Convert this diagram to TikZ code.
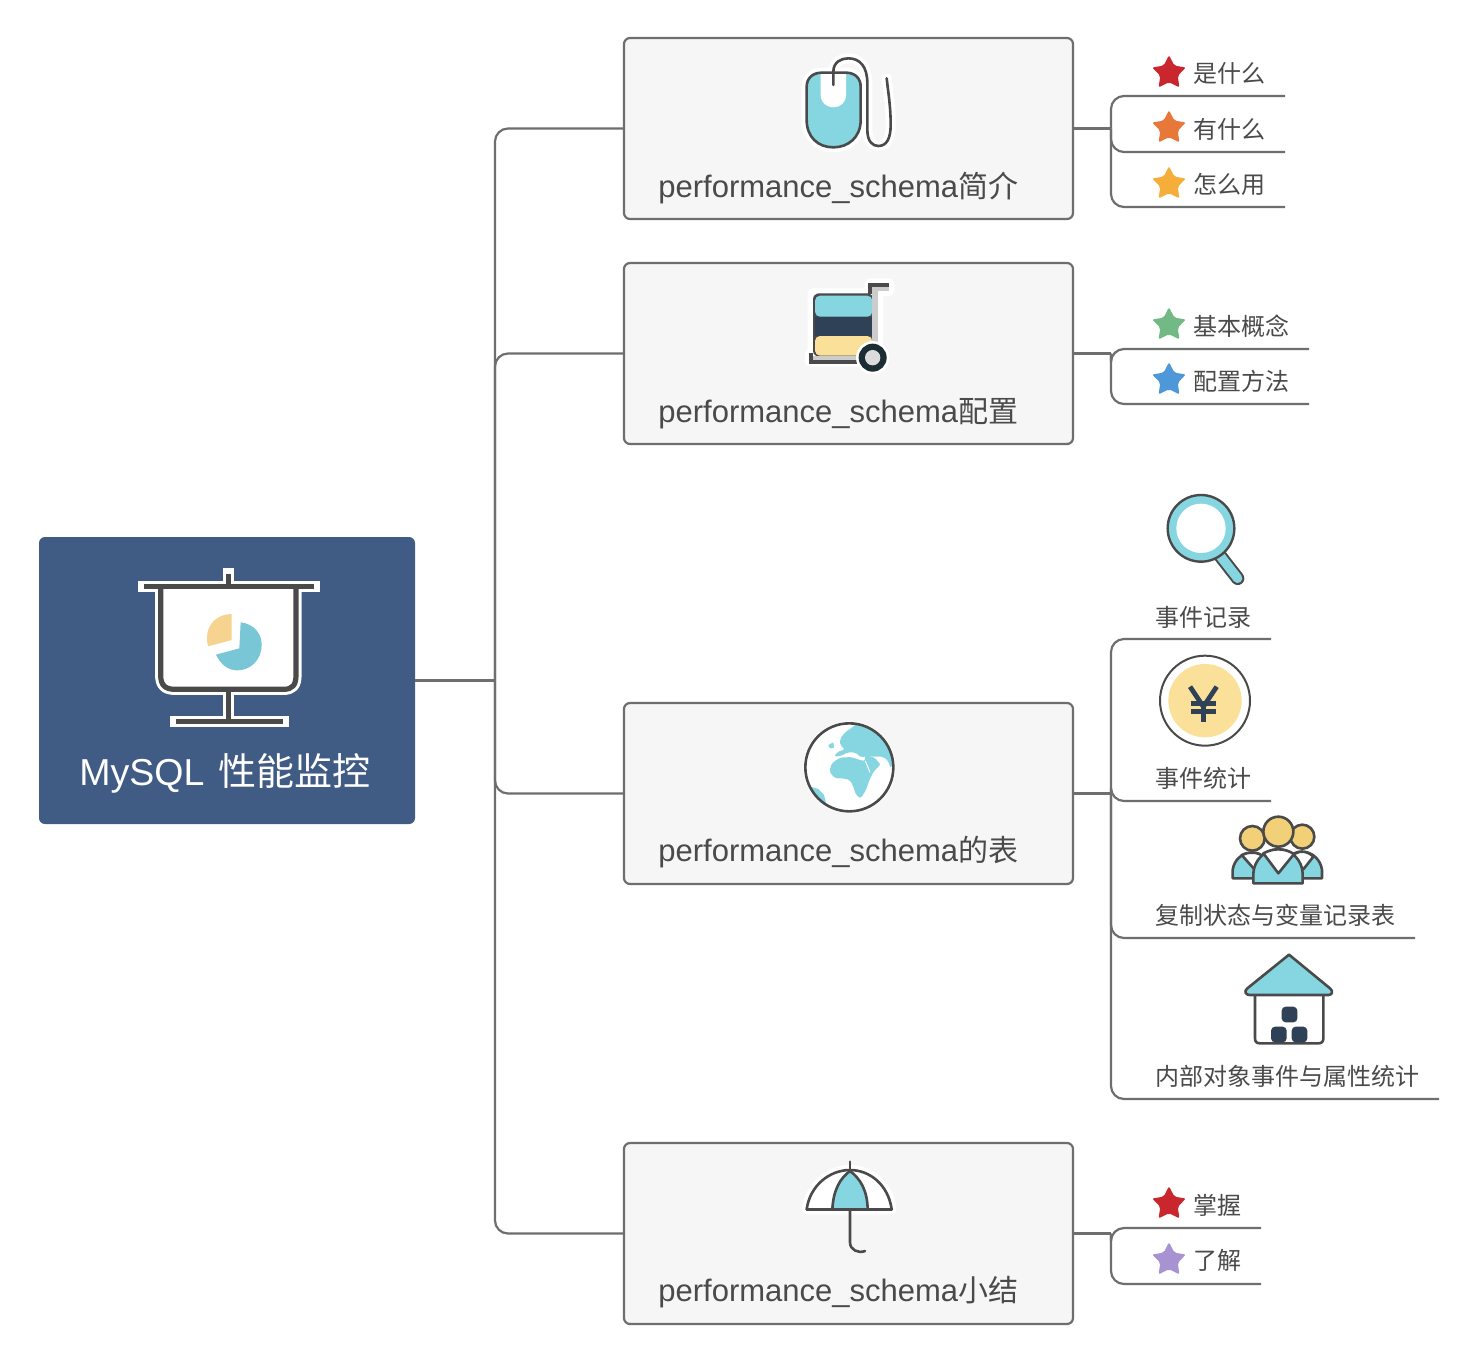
\documentclass[tikz,border=0pt]{standalone}
\usepackage{fontspec}
\setmainfont{Liberation Sans}
\newfontfamily\cjk{Noto Sans CJK SC}
\usetikzlibrary{shapes.geometric}
\definecolor{ink}{HTML}{4A4A4A}
\definecolor{wire}{HTML}{6E6E6E}
\definecolor{panel}{HTML}{F6F6F6}
\definecolor{rootblue}{HTML}{405C85}
\definecolor{teal}{HTML}{86D6E2}
\definecolor{navy}{HTML}{2F4156}
\definecolor{butter}{HTML}{FBE09A}
\definecolor{gold}{HTML}{F2D077}
\definecolor{pieblue}{HTML}{78C6D6}
\definecolor{pieyellow}{HTML}{F6D38F}
\definecolor{starred}{HTML}{C9272D}
\definecolor{starorange}{HTML}{E8773A}
\definecolor{staramber}{HTML}{F5AE3A}
\definecolor{stargreen}{HTML}{72B985}
\definecolor{starblue}{HTML}{4E97D9}
\definecolor{starpurple}{HTML}{A793D1}
\definecolor{cartgray}{HTML}{CCCCCC}
\definecolor{wheeldark}{HTML}{1C2D33}
\definecolor{wheelhub}{HTML}{DCDCDC}
\tikzset{
  rootbox/.style={draw=none,fill=rootblue,rounded corners=3pt,minimum width=188pt,minimum height=143.5pt,inner sep=0pt},
  topicbox/.style={draw=wire,line width=1.1pt,fill=panel,rounded corners=3pt,minimum width=224.5pt,minimum height=90.5pt,inner sep=0pt},
  topictext/.style={anchor=base west,inner sep=0pt,text=ink,font=\fontsize{15.5}{18}\selectfont},
  leaftext/.style={anchor=base west,inner sep=0pt,text=ink,font=\fontsize{12}{14}\selectfont\cjk},
  wireline/.style={draw=wire,line width=1.1pt,rounded corners=6.5pt},
  starmark/.style={star,star points=5,star point ratio=1.95,inner sep=0pt,minimum size=17.8pt,rounded corners=1pt,fill=#1,draw=none},
  outl/.style={draw=ink,line width=1.3pt,line join=round,line cap=round},
  halo/.style={draw=white,line width=5pt,line join=round,line cap=round},
  zoomed/.style={shift={#1},scale=.33333},
}
\begin{document}
\begin{tikzpicture}[x=.5pt,y=.5pt,yscale=-1]
\path[fill=white,use as bounding box] (0,0) rectangle (1482,1366);

% boxes
\node[rootbox] (root) at (227,680.5) {};
\node[topicbox] (b1) at (848.5,128.5) {};
\node[topicbox] (b2) at (848.5,353.5) {};
\node[topicbox] (b3) at (848.5,793.5) {};
\node[topicbox] (b4) at (848.5,1233.5) {};

% left trunk
\coordinate (t0) at (495,680.5);
\draw[wireline] (root.east) -- (t0);
\draw[wireline] (t0) |- (b1.west);
\draw[wireline] (t0) |- (b2.west);
\draw[wireline] (t0) |- (b3.west);
\draw[wireline] (t0) |- (b4.west);

% right joints
\coordinate (j1) at (1111,128.5);
\coordinate (j2) at (1111,353.5);
\coordinate (j3) at (1111,793.5);
\coordinate (j4) at (1111,1233.5);
\draw[wireline] (b1.east) -- (j1);
\draw[wireline] (b2.east) -- (j2);
\draw[wireline] (b3.east) -- (j3);
\draw[wireline] (b4.east) -- (j4);

% leaf lines
\coordinate (e11) at (1285,96);
\coordinate (e12) at (1285,152);
\coordinate (e13) at (1285,207);
\coordinate (e21) at (1309,349);
\coordinate (e22) at (1309,404);
\coordinate (e31) at (1271,639);
\coordinate (e32) at (1271,801);
\coordinate (e33) at (1415,938);
\coordinate (e34) at (1439,1099);
\coordinate (e41) at (1261,1228);
\coordinate (e42) at (1261,1284);
\draw[wireline] (j1) |- (e11);
\draw[wireline] (j1) |- (e12);
\draw[wireline] (j1) |- (e13);
\draw[wireline] (j2) |- (e21);
\draw[wireline] (j2) |- (e22);
\draw[wireline] (j3) |- (e31);
\draw[wireline] (j3) |- (e32);
\draw[wireline] (j3) |- (e33);
\draw[wireline] (j3) |- (e34);
\draw[wireline] (j4) |- (e41);
\draw[wireline] (j4) |- (e42);

% texts
\node[anchor=base west,inner sep=0pt,text=white,font=\fontsize{18.75}{22}\selectfont] (roottext) at (79,785) {MySQL\hspace{7.2pt}{\fontsize{19}{22}\selectfont\cjk 性能监控}};
\node[topictext] (t1) at (658,197.5) {performance\_schema{\fontsize{15}{18}\selectfont\cjk 简介}};
\node[topictext] (t2) at (658,422.5) {performance\_schema{\fontsize{15}{18}\selectfont\cjk 配置}};
\node[topictext] (t3) at (658,861.5) {performance\_schema{\fontsize{15}{18}\selectfont\cjk 的表}};
\node[topictext] (t4) at (658,1301.5) {performance\_schema{\fontsize{15}{18}\selectfont\cjk 小结}};

\node[leaftext] (l11) at (1193,82) {是什么};
\node[leaftext] (l12) at (1193,138) {有什么};
\node[leaftext] (l13) at (1193,193) {怎么用};
\node[leaftext] (l21) at (1193,335) {基本概念};
\node[leaftext] (l22) at (1193,390) {配置方法};
\node[leaftext] (l31) at (1155,626) {事件记录};
\node[leaftext] (l32) at (1155,787) {事件统计};
\node[leaftext] (l33) at (1155,924) {复制状态与变量记录表};
\node[leaftext] (l34) at (1155,1085) {内部对象事件与属性统计};
\node[leaftext] (l41) at (1193,1214) {掌握};
\node[leaftext] (l42) at (1193,1269) {了解};

% stars
\node[starmark=starred] (s11) at (1169,73) {};
\node[starmark=starorange] (s12) at (1169,128) {};
\node[starmark=staramber] (s13) at (1169,184) {};
\node[starmark=stargreen] (s21) at (1169,325) {};
\node[starmark=starblue] (s22) at (1169,380) {};
\node[starmark=starred] (s41) at (1169,1204) {};
\node[starmark=starpurple] (s42) at (1169,1260) {};

% presentation board (zoom coordinates)
\begin{scope}[zoomed={(120,560)}]
  \begin{scope}[draw=white,line width=5.6pt,line cap=rect,line join=round]
    \draw (72,80) -- (582,80);
    \draw (325,42) -- (325,80);
    \draw (122,80) -- (122,345) .. controls (122,375) and (135,388) .. (165,388) -- (490,388) .. controls (518,388) and (528,375) .. (528,345) -- (528,80);
    \draw (325,388) -- (325,485);
    \draw (168,485) -- (490,485);
  \end{scope}
  \fill[white] (122,80) rectangle (528,385);
  \begin{scope}[draw=ink,line width=2.6pt,line join=round]
    \draw (72,80) -- (582,80);
    \draw (325,42) -- (325,80);
    \draw (122,80) -- (122,345) .. controls (122,375) and (135,388) .. (165,388) -- (490,388) .. controls (518,388) and (528,375) .. (528,345) -- (528,80);
    \draw (325,388) -- (325,485);
    \draw (168,485) -- (490,485);
  \end{scope}
  \fill[pieblue] (358,265) -- (362,187) .. controls (402,192) and (425,220) .. (425,255) .. controls (425,298) and (393,331) .. (352,331) .. controls (325,331) and (303,315) .. (288,284) -- cycle;
  \fill[pieyellow] (335,240) -- (335,162) .. controls (293,162) and (261,192) .. (261,232) .. controls (261,242) and (262,250) .. (264,259) -- cycle;
\end{scope}

% mouse
\begin{scope}[zoomed={(790,50)}]
  \draw[halo] (130,105) -- (130,65) .. controls (130,35) and (155,25) .. (175,25) .. controls (210,25) and (232,50) .. (232,100) -- (232,240) .. controls (232,275) and (248,288) .. (265,288) .. controls (290,288) and (302,265) .. (302,225) .. controls (302,170) and (295,130) .. (290,85);
  \draw[halo] (95,68) -- (168,68) .. controls (195,68) and (212,85) .. (212,110) -- (212,210) .. controls (212,262) and (175,292) .. (130,292) .. controls (85,292) and (50,262) .. (50,210) -- (50,110) .. controls (50,85) and (68,68) .. (95,68) -- cycle;
  \fill[teal] (95,68) -- (168,68) .. controls (195,68) and (212,85) .. (212,110) -- (212,210) .. controls (212,262) and (175,292) .. (130,292) .. controls (85,292) and (50,262) .. (50,210) -- (50,110) .. controls (50,85) and (68,68) .. (95,68) -- cycle;
  \fill[white] (92,70) -- (168,70) -- (168,135) .. controls (168,158) and (150,172) .. (130,172) .. controls (110,172) and (92,158) .. (92,135) -- cycle;
  \draw[outl] (95,68) -- (168,68) .. controls (195,68) and (212,85) .. (212,110) -- (212,210) .. controls (212,262) and (175,292) .. (130,292) .. controls (85,292) and (50,262) .. (50,210) -- (50,110) .. controls (50,85) and (68,68) .. (95,68) -- cycle;
  \draw[outl] (130,105) -- (130,65) .. controls (130,35) and (155,25) .. (175,25) .. controls (210,25) and (232,50) .. (232,100) -- (232,240) .. controls (232,275) and (248,288) .. (265,288) .. controls (290,288) and (302,265) .. (302,225) .. controls (302,170) and (295,130) .. (290,85);
\end{scope}

% cart
\begin{scope}[zoomed={(790,275)}]
  \draw[white,line width=5pt,line join=round] (68,55) -- (238,55) -- (238,25) -- (298,25) -- (298,48) -- (265,48) -- (265,205) -- (225,260) -- (60,260) -- (60,238) -- (68,238) -- cycle;
  \fill[ink,rounded corners=3pt] (69,55) rectangle (250,245);
  \fill[teal,rounded corners=2.5pt] (75,62) rectangle (247,125);
  \fill[navy] (75,125) rectangle (247,183);
  \fill[butter,rounded corners=2.5pt] (75,183) rectangle (247,242);
  \fill[cartgray] (247,35) rectangle (263,235);
  \fill[cartgray] (247,35) rectangle (296,48);
  \draw[ink,line width=2pt,line join=miter] (298,29) -- (240,29) -- (240,58);
  \fill[cartgray] (68,243) rectangle (225,255);
  \draw[ink,line width=2pt,line join=miter] (62,235) -- (62,260) -- (215,260);
  \fill[white] (248,248) circle (50);
  \fill[wheeldark] (248,248) circle (42);
  \fill[wheelhub] (248,248) circle (23);
\end{scope}

% globe
\begin{scope}[zoomed={(790,715)}]
  \fill[white] (178,157) circle (138);
  \begin{scope}
    \clip (178,157) circle (132);
    \fill[teal,rounded corners=1pt] (150,72) -- (165,52) -- (190,35) -- (200,25) -- (260,30) -- (320,80) -- (312,130) -- (302,160) -- (293,135) -- (278,125) -- (255,125) -- (230,123) -- (215,128) -- (195,112) -- (172,112) -- (155,122) -- (133,125) -- (140,112) -- (165,103) -- (150,90) -- cycle;
    \fill[teal,rounded corners=1pt] (225,122) -- (250,125) -- (272,148) -- (252,168) -- (238,195) -- (228,225) -- (212,250) -- (198,240) -- (190,215) -- (180,195) -- (160,190) -- (135,190) -- (118,170) -- (125,145) -- (150,128) -- (185,126) -- (205,134) -- (225,138) -- cycle;
    \draw[white,line width=.5pt] (226,138) -- (240,172);
    \fill[teal] (115,90) -- (130,82) -- (132,98) -- (120,100) -- cycle;
    \fill[teal] (40,190) -- (60,215) -- (85,222) -- (102,240) -- (110,272) -- (90,260) -- (60,235) -- cycle;
  \end{scope}
  \draw[outl] (178,157) circle (132);
\end{scope}

% umbrella
\begin{scope}[zoomed={(790,1155)}]
  \draw[halo,fill=white] (50,163) .. controls (60,90) and (120,45) .. (180,45) .. controls (240,45) and (295,90) .. (305,163) -- cycle;
  \fill[teal] (127,163) .. controls (130,105) and (150,70) .. (180,48) .. controls (210,70) and (232,105) .. (233,163) -- cycle;
  \draw[outl] (50,163) .. controls (60,90) and (120,45) .. (180,45) .. controls (240,45) and (295,90) .. (305,163);
  \draw[outl] (127,163) .. controls (130,105) and (150,70) .. (180,48) .. controls (210,70) and (232,105) .. (233,163);
  \draw[outl] (50,163) -- (305,163);
  \draw[outl] (180,20) -- (180,48);
  \draw[outl] (180,163) -- (180,262) .. controls (180,285) and (205,296) .. (225,288);
\end{scope}

% magnifier
\begin{scope}[zoomed={(1145,485)}]
  \draw[ink,line width=6.7pt,line cap=round] (225,212) -- (278,280);
  \draw[teal,line width=4.7pt,line cap=round] (225,212) -- (278,280);
  \filldraw[draw=ink,line width=1.2pt,fill=teal] (168,130) circle (100);
  \fill[white] (168,130) circle (74);
\end{scope}

% coin
\begin{scope}[zoomed={(1145,485)}]
  \draw[ink,line width=1pt,fill=white] (180,647) circle (135);
  \fill[butter] (180,647) circle (110);
  \draw[navy,line width=2.4pt,line join=miter] (135,605) -- (175,665) -- (215,605);
  \draw[navy,line width=2.4pt] (175,665) -- (175,710);
  \draw[navy,line width=2.2pt] (138,655) -- (212,655);
  \draw[navy,line width=2.2pt] (138,680) -- (212,680);
\end{scope}

% people
\begin{scope}[zoomed={(1220,810)}]
  \filldraw[outl,fill=teal] (38,205) -- (38,180) .. controls (42,150) and (65,128) .. (97,128) .. controls (125,128) and (148,150) .. (155,180) -- (155,205) -- cycle;
  \filldraw[outl,fill=teal] (190,205) -- (190,180) .. controls (195,150) and (215,125) .. (245,125) .. controls (278,125) and (302,150) .. (306,180) -- (306,205) -- cycle;
  \filldraw[outl,fill=white] (65,135) .. controls (75,130) and (85,128) .. (97,128) .. controls (112,128) and (125,133) .. (135,145) -- (105,180) -- cycle;
  \filldraw[outl,fill=white] (215,138) .. controls (225,130) and (235,125) .. (245,125) .. controls (258,125) and (270,130) .. (280,140) -- (250,178) -- cycle;
  \filldraw[outl,fill=teal] (100,220) -- (100,190) .. controls (102,150) and (135,118) .. (175,118) .. controls (215,118) and (246,150) .. (248,190) -- (248,220) -- cycle;
  \filldraw[outl,fill=white] (130,130) .. controls (145,122) and (160,118) .. (175,118) .. controls (192,118) and (208,123) .. (222,132) -- (175,190) -- cycle;
  \filldraw[outl,fill=gold] (97,85) circle (37);
  \filldraw[outl,fill=gold] (247,80) circle (36);
  \filldraw[outl,fill=gold] (175,65) circle (45);
\end{scope}

% house
\begin{scope}[zoomed={(1220,810)}]
  \filldraw[outl,fill=white] (105,545) -- (105,685) .. controls (105,695) and (110,700) .. (120,700) -- (295,700) .. controls (305,700) and (310,695) .. (310,685) -- (310,545) -- cycle;
  \filldraw[outl,fill=teal] (207,434) -- (330,535) .. controls (342,545) and (335,555) .. (325,555) -- (90,555) .. controls (78,555) and (70,545) .. (82,535) -- cycle;
  \fill[navy,rounded corners=2pt] (185,590) rectangle (232,637);
  \fill[navy,rounded corners=2pt] (153,650) rectangle (200,697);
  \fill[navy,rounded corners=2pt] (215,650) rectangle (262,697);
\end{scope}
\end{tikzpicture}
\end{document}
